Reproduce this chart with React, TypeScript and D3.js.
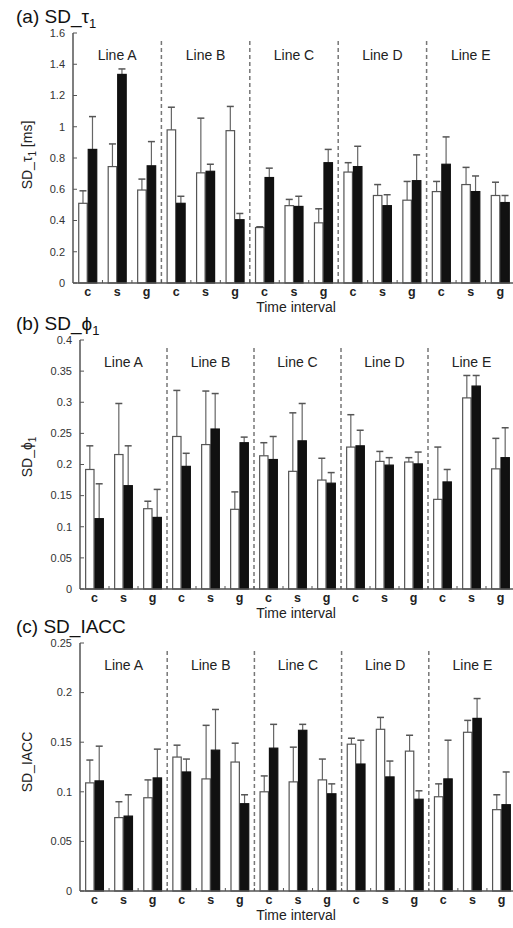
import React from 'react';
import * as d3 from 'd3';

// categories
const lines = ['Line A', 'Line B', 'Line C', 'Line D', 'Line E'];
const intervals = ['c', 's', 'g'];

// (a) SD_tau1 [ms]  -- 15 values: Line A c,s,g, Line B c,s,g ...
const tauOpen = [0.51, 0.745, 0.595, 0.98, 0.705, 0.975, 0.355, 0.495, 0.385, 0.71, 0.56, 0.53, 0.585, 0.63, 0.56];
const tauOpenErr = [0.08, 0.145, 0.07, 0.145, 0.35, 0.155, 0.005, 0.04, 0.09, 0.06, 0.07, 0.12, 0.065, 0.11, 0.085];
const tauFilled = [0.855, 1.335, 0.75, 0.51, 0.715, 0.405, 0.675, 0.49, 0.77, 0.745, 0.495, 0.655, 0.76, 0.585, 0.515];
const tauFilledErr = [0.21, 0.035, 0.155, 0.045, 0.045, 0.04, 0.06, 0.065, 0.085, 0.13, 0.07, 0.165, 0.175, 0.1, 0.045];
const tauTicks = [0, 0.2, 0.4, 0.6, 0.8, 1, 1.2, 1.4, 1.6];

// (b) SD_phi1
const phiOpen = [0.192, 0.216, 0.129, 0.245, 0.232, 0.128, 0.214, 0.189, 0.175, 0.228, 0.205, 0.204, 0.144, 0.307, 0.193];
const phiOpenErr = [0.038, 0.082, 0.012, 0.074, 0.086, 0.028, 0.021, 0.094, 0.035, 0.052, 0.016, 0.007, 0.084, 0.036, 0.049];
const phiFilled = [0.113, 0.166, 0.115, 0.197, 0.257, 0.235, 0.208, 0.238, 0.17, 0.23, 0.199, 0.201, 0.172, 0.326, 0.211];
const phiFilledErr = [0.056, 0.064, 0.045, 0.021, 0.057, 0.009, 0.037, 0.06, 0.017, 0.025, 0.012, 0.019, 0.02, 0.017, 0.048];
const phiTicks = [0, 0.05, 0.1, 0.15, 0.2, 0.25, 0.3, 0.35, 0.4];

// (c) SD_IACC
const iaccOpen = [0.109, 0.074, 0.094, 0.135, 0.113, 0.13, 0.1, 0.11, 0.112, 0.148, 0.163, 0.141, 0.095, 0.16, 0.082];
const iaccOpenErr = [0.023, 0.016, 0.018, 0.012, 0.054, 0.019, 0.016, 0.035, 0.021, 0.006, 0.012, 0.016, 0.013, 0.012, 0.015];
const iaccFilled = [0.111, 0.0755, 0.114, 0.12, 0.142, 0.088, 0.144, 0.162, 0.098, 0.128, 0.115, 0.0925, 0.113, 0.174, 0.087];
const iaccFilledErr = [0.035, 0.0215, 0.029, 0.013, 0.041, 0.009, 0.024, 0.006, 0.01, 0.024, 0.016, 0.0085, 0.039, 0.02, 0.033];
const iaccTicks = [0, 0.05, 0.1, 0.15, 0.2, 0.25];

const FONT = '"Liberation Sans", Arial, sans-serif';
const AXIS = '#555';

type PanelProps = {
  letter: string;
  sym: string;
  sub?: string;
  ylabel: string;
  ysub?: string;
  yunit?: string;
  open: number[];
  openErr: number[];
  filled: number[];
  filledErr: number[];
  ticks: number[];
  left: number;
  right: number;
  top: number;
  bottom: number;
  ylabelY: number;
};

function Panel(p: PanelProps) {
  const y = d3.scaleLinear().domain([0, p.ticks[p.ticks.length - 1]]).range([p.bottom, p.top]);
  const xGroup = d3.scaleBand().domain(lines).range([p.left, p.right]);
  const xInt = d3.scaleBand().domain(intervals).range([0, xGroup.bandwidth()]);
  const xBar = d3.scaleBand().domain(['open', 'filled']).range([0, xInt.bandwidth()]).paddingOuter(0.55);
  const bw = xBar.bandwidth();

  const rows = lines.flatMap((ln, li) =>
    intervals.map((iv, ii) => {
      const k = li * 3 + ii;
      return { ln, iv, k, x0: (xGroup(ln) as number) + (xInt(iv) as number) };
    })
  );

  const bar = (x: number, v: number, e: number, filled: boolean, key: string) => {
    const cx = x + bw / 2;
    return (
      <g key={key}>
        <line x1={cx} x2={cx} y1={y(v)} y2={y(v + e)} stroke="#666" strokeWidth={1.2} />
        <line x1={cx - 3.5} x2={cx + 3.5} y1={y(v + e)} y2={y(v + e)} stroke="#555" strokeWidth={1.5} />
        <rect
          x={x + 0.5}
          y={y(v)}
          width={bw - 1}
          height={p.bottom - y(v)}
          fill={filled ? '#111' : '#fff'}
          stroke={filled ? '#111' : '#555'}
          strokeWidth={1.2}
        />
      </g>
    );
  };

  return (
    <g fontFamily={FONT}>
      <text x={16} y={p.top - 10} fontSize={19} fill="#111">
        ({p.letter}) SD_{p.sym}
        {p.sub && (
          <tspan fontSize={13} dy={5}>
            {p.sub}
          </tspan>
        )}
      </text>
      <text
        transform={`translate(32,${p.ylabelY}) rotate(-90)`}
        textAnchor="middle"
        fontSize={14}
        fill="#222"
      >
        {p.ylabel}
        {p.ysub && (
          <tspan fontSize={10} dy={4}>
            {p.ysub}
          </tspan>
        )}
        {p.yunit && <tspan dy={p.ysub ? -4 : 0}>{p.yunit}</tspan>}
      </text>

      {/* y ticks */}
      {p.ticks.map((t) => (
        <g key={t}>
          <line x1={p.left} x2={p.left + 4} y1={y(t)} y2={y(t)} stroke={AXIS} strokeWidth={1} />
          <text x={p.left - 8} y={y(t)} dy="0.35em" textAnchor="end" fontSize={11} fill="#333">
            {d3.format('~g')(t)}
          </text>
        </g>
      ))}

      {/* dashed separators */}
      {lines.slice(1).map((ln) => (
        <line
          key={ln}
          x1={xGroup(ln)}
          x2={xGroup(ln)}
          y1={p.top + 8}
          y2={p.bottom}
          stroke="#777"
          strokeWidth={1.5}
          strokeDasharray="4 3"
        />
      ))}

      {/* line labels */}
      {lines.map((ln) => (
        <text
          key={ln}
          x={(xGroup(ln) as number) + xGroup.bandwidth() / 2}
          y={p.top + 22}
          dy="0.35em"
          textAnchor="middle"
          fontSize={14}
          fill="#222"
        >
          {ln}
        </text>
      ))}

      {/* bars */}
      {rows.map((r) => (
        <g key={r.k}>
          {bar(r.x0 + (xBar('open') as number), p.open[r.k], p.openErr[r.k], false, 'o')}
          {bar(r.x0 + (xBar('filled') as number), p.filled[r.k], p.filledErr[r.k], true, 'f')}
        </g>
      ))}

      {/* x ticks between intervals */}
      {rows.map((r) => (
        <line
          key={'t' + r.k}
          x1={r.x0 + xInt.bandwidth()}
          x2={r.x0 + xInt.bandwidth()}
          y1={p.bottom}
          y2={p.bottom - 3}
          stroke={AXIS}
        />
      ))}

      {/* axes */}
      <line x1={p.left} x2={p.left} y1={p.top} y2={p.bottom} stroke={AXIS} strokeWidth={1.5} />
      <line x1={p.left} x2={513} y1={p.bottom} y2={p.bottom} stroke={AXIS} strokeWidth={1.5} />

      {/* interval labels */}
      {rows.map((r) => (
        <text
          key={'l' + r.k}
          x={r.x0 + xInt.bandwidth() / 2}
          y={p.bottom + 8.5}
          dy="0.35em"
          textAnchor="middle"
          fontSize={12.5}
          fontWeight="bold"
          fill="#222"
        >
          {r.iv}
        </text>
      ))}
      <text x={296} y={p.bottom + 24} dy="0.35em" textAnchor="middle" fontSize={14} fill="#222">
        Time interval
      </text>
    </g>
  );
}

export default function App() {
  return (
    <svg width={513} height={928} style={{ position: 'absolute', left: 0, top: 0, background: '#fff' }}>
      <rect width={513} height={928} fill="#fff" />
      <Panel
        letter="a"
        sym="τ"
        sub="1"
        ylabel="SD_τ"
        ysub="1"
        yunit=" [ms]"
        open={tauOpen}
        openErr={tauOpenErr}
        filled={tauFilled}
        filledErr={tauFilledErr}
        ticks={tauTicks}
        left={73}
        right={515}
        top={33}
        bottom={283}
        ylabelY={155}
      />
      <Panel
        letter="b"
        sym="ϕ"
        sub="1"
        ylabel="SD_ϕ"
        ysub="1"
        open={phiOpen}
        openErr={phiOpenErr}
        filled={phiFilled}
        filledErr={phiFilledErr}
        ticks={phiTicks}
        left={80}
        right={515}
        top={340}
        bottom={589}
        ylabelY={457}
      />
      <Panel
        letter="c"
        sym="IACC"
        ylabel="SD_IACC"
        open={iaccOpen}
        openErr={iaccOpenErr}
        filled={iaccFilled}
        filledErr={iaccFilledErr}
        ticks={iaccTicks}
        left={80}
        right={516}
        top={643}
        bottom={891}
        ylabelY={762}
      />
    </svg>
  );
}
